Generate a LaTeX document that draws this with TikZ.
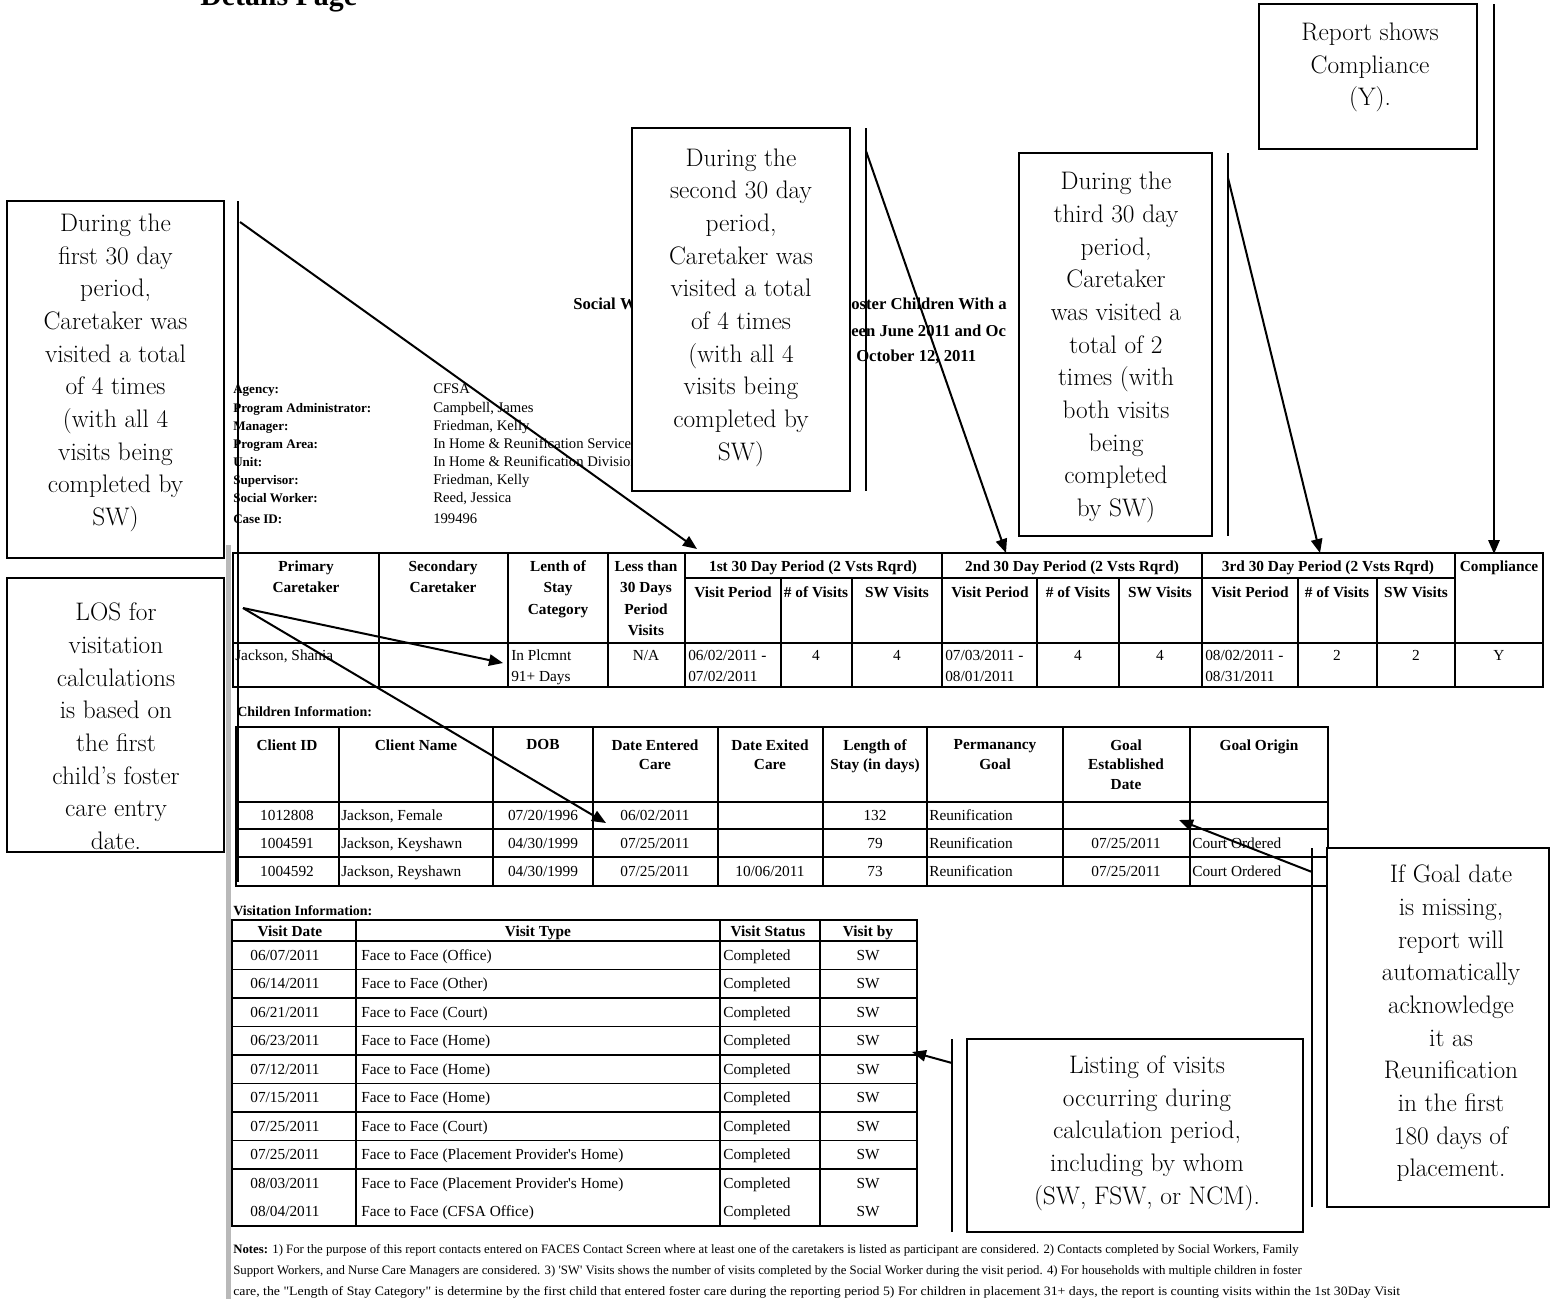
\documentclass[tikz,border=0pt]{standalone}
\usepackage{fontspec}
\newfontfamily\tabfont{Liberation Serif}
\usetikzlibrary{arrows.meta}
\newcommand\callfont{\fontsize{19}{24.5}\selectfont}

\begin{document}
\begin{tikzpicture}[x=0.75pt,y=0.75pt,
  every node/.style={inner sep=0pt},
  callbox/.style={draw=black,line width=1.5pt,fill=white},
  calltext/.style={align=center,font=\callfont},
  bar/.style={line width=1.5pt},
  pointer/.style={line width=1.5pt,-{Triangle[length=10.5pt,width=8.5pt]}},
  grid/.style={line width=0.8pt},
  hd/.style={anchor=north,align=center,font=\tabfont\bfseries\fontsize{11.5}{16}\selectfont},
  chd/.style={anchor=north,align=center,font=\tabfont\bfseries\fontsize{11.5}{14.5}\selectfont},
  cell/.style={font=\tabfont\fontsize{11.5}{14}\selectfont},
  lbl/.style={anchor=base west,font=\tabfont\bfseries\fontsize{9.8}{11}\selectfont},
  val/.style={anchor=base west,font=\tabfont\fontsize{11}{13}\selectfont},
  rtitle/.style={anchor=base west,font=\tabfont\bfseries\fontsize{12.5}{15}\selectfont},
  note/.style={anchor=base west,font=\tabfont\fontsize{9.6}{11}\selectfont}]
\useasboundingbox (0,0) rectangle (1551,-1299);

% page heading
\node[anchor=base west,font=\tabfont\bfseries\fontsize{22.4}{26}\selectfont] (pagehead) at (200,-6) {Details Page};
\fill[gray!55] (226,-545) rectangle (231,-1299);

% report title (partly hidden by the callouts)
\node[rtitle] (rtitle1) at (573,-309) {Social W};
\node[rtitle] (rtitle2) at (851,-309) {oster Children With a};
\node[rtitle] (rtitle3) at (851,-336) {een June 2011 and Oc};
\node[rtitle] (rtitle4) at (856,-361) {October 12, 2011};

% agency block
\foreach \lt/\vt/\ly [count=\k] in {Agency:/CFSA/393,
  Program Administrator:/{Campbell, James}/412,
  Manager:/{Friedman, Kelly}/430,
  Program Area:/In Home \& Reunification Services/448,
  Unit:/In Home \& Reunification Division/466,
  Supervisor:/{Friedman, Kelly}/484,
  Social Worker:/{Reed, Jessica}/502,
  Case ID:/199496/523}
{
  \node[lbl] (alabel\k) at (233,-\ly) {\lt};
  \node[val] (avalue\k) at (433,-\ly) {\vt};
}

% caretaker table
\draw[grid] (233,-553) rectangle (1543,-687);
\foreach \cx in {379,508,608,685,942,1202,1455} \draw[grid] (\cx,-553) -- (\cx,-687);
\foreach \cx in {781,852,1037,1119,1298,1377} \draw[grid] (\cx,-578) -- (\cx,-687);
\draw[grid] (685,-578) -- (1455,-578);
\draw[grid] (233,-643) -- (1543,-643);

\node[hd] (hprim) at (306,-560.5) {Primary\\Caretaker};
\node[hd] (hsec) at (443,-560.5) {Secondary\\Caretaker};
\node[hd] (hlos) at (558,-560.5) {Lenth of\\Stay\\Category};
\node[hd] (hless) at (646,-560.5) {Less than\\30 Days\\Period\\Visits};
\node[hd] (hper1) at (813,-560.5) {1st 30 Day Period (2 Vsts Rqrd)};
\node[hd] (hper2) at (1072,-560.5) {2nd 30 Day Period (2 Vsts Rqrd)};
\node[hd] (hper3) at (1328,-560.5) {3rd 30 Day Period (2 Vsts Rqrd)};
\node[hd] (hcomp) at (1499,-560.5) {Compliance};
\foreach \sx/\st [count=\k] in {733/Visit Period,816/\# of Visits,897/SW Visits,
  990/Visit Period,1078/\# of Visits,1160/SW Visits,
  1250/Visit Period,1337/\# of Visits,1416/SW Visits}
  \node[hd] (hsub\k) at (\sx,-586.5) {\st};

\node[cell,anchor=base west] (dcare) at (235,-660) {Jackson, Shania};
\node[cell,anchor=base west] (dlos) at (511,-660) {In Plcmnt};
\node[cell,anchor=base west] (dlosb) at (511,-681) {91+ Days};
\node[cell,anchor=base] (dless) at (646,-660) {N/A};
\node[cell,anchor=base west] (dvp1) at (688,-660) {06/02/2011 -};
\node[cell,anchor=base west] (dvp1b) at (688,-681) {07/02/2011};
\node[cell,anchor=base] (dnv1) at (816,-660) {4};
\node[cell,anchor=base] (dsw1) at (897,-660) {4};
\node[cell,anchor=base west] (dvp2) at (945,-660) {07/03/2011 -};
\node[cell,anchor=base west] (dvp2b) at (945,-681) {08/01/2011};
\node[cell,anchor=base] (dnv2) at (1078,-660) {4};
\node[cell,anchor=base] (dsw2) at (1160,-660) {4};
\node[cell,anchor=base west] (dvp3) at (1205,-660) {08/02/2011 -};
\node[cell,anchor=base west] (dvp3b) at (1205,-681) {08/31/2011};
\node[cell,anchor=base] (dnv3) at (1337,-660) {2};
\node[cell,anchor=base] (dsw3) at (1416,-660) {2};
\node[cell,anchor=base] (dcomp) at (1499,-660) {Y};

% children table
\node[anchor=base west,font=\tabfont\bfseries\fontsize{10.5}{12}\selectfont] (kidshead) at (237,-716) {Children Information:};
\draw[grid] (236,-727) rectangle (1328,-886);
\foreach \cx in {339,493,593,718,823,927,1063,1190} \draw[grid] (\cx,-727) -- (\cx,-886);
\foreach \cy in {802,829,857} \draw[grid] (236,-\cy) -- (1328,-\cy);
\node[chd] (kid) at (287,-739.5) {Client ID};
\node[chd] (kname) at (416,-739.5) {Client Name};
\node[chd] (kdob) at (543,-739.5) {DOB};
\node[chd] (kin) at (655,-739.5) {Date Entered\\Care};
\node[chd] (kout) at (770,-739.5) {Date Exited\\Care};
\node[chd] (klen) at (875,-739.5) {Length of\\Stay (in days)};
\node[chd] (kgoal) at (995,-739.5) {Permanancy\\Goal};
\node[chd] (kgdate) at (1126,-739.5) {Goal\\Established\\Date};
\node[chd] (korig) at (1259,-739.5) {Goal Origin};
\foreach \cid/\cname/\cdob/\cin/\cout/\clen/\cgd/\cgo [count=\r] in {
  1012808/{Jackson, Female}/{07/20/1996}/{06/02/2011}/{}/132/{}/{},
  1004591/{Jackson, Keyshawn}/{04/30/1999}/{07/25/2011}/{}/79/{07/25/2011}/Court Ordered,
  1004592/{Jackson, Reyshawn}/{04/30/1999}/{07/25/2011}/{10/06/2011}/73/{07/25/2011}/Court Ordered}
{
  \node[cell,anchor=base] (kid\r) at (287,{-792-28*\r}) {\cid};
  \node[cell,anchor=base west] (kname\r) at (341,{-792-28*\r}) {\cname};
  \node[cell,anchor=base] (kdob\r) at (543,{-792-28*\r}) {\cdob};
  \node[cell,anchor=base] (kin\r) at (655,{-792-28*\r}) {\cin};
  \node[cell,anchor=base] (kout\r) at (770,{-792-28*\r}) {\cout};
  \node[cell,anchor=base] (klen\r) at (875,{-792-28*\r}) {\clen};
  \node[cell,anchor=base west] (kgoal\r) at (929,{-792-28*\r}) {Reunification};
  \node[cell,anchor=base] (kgdate\r) at (1126,{-792-28*\r}) {\cgd};
  \node[cell,anchor=base west] (korig\r) at (1192,{-792-28*\r}) {\cgo};
}

% visitation table
\node[anchor=base west,font=\tabfont\bfseries\fontsize{10.5}{12}\selectfont] (visithead) at (233,-915) {Visitation Information:};
\draw[grid] (232,-920) rectangle (917,-1226);
\foreach \cx in {356,720,820} \draw[grid] (\cx,-920) -- (\cx,-1226);
\foreach \k in {0,...,8} \draw[grid] (232,{-941-28.5*\k}) -- (917,{-941-28.5*\k});
\node[cell,anchor=base,font=\tabfont\bfseries\fontsize{11.5}{14}\selectfont] (vhdate) at (290,-936) {Visit Date};
\node[cell,anchor=base,font=\tabfont\bfseries\fontsize{11.5}{14}\selectfont] (vhtype) at (538,-936) {Visit Type};
\node[cell,anchor=base,font=\tabfont\bfseries\fontsize{11.5}{14}\selectfont] (vhstat) at (768,-936) {Visit Status};
\node[cell,anchor=base,font=\tabfont\bfseries\fontsize{11.5}{14}\selectfont] (vhby) at (868,-936) {Visit by};
\foreach \vd/\vt [count=\k] in {{06/07/2011}/Face to Face (Office),
  {06/14/2011}/Face to Face (Other),
  {06/21/2011}/Face to Face (Court),
  {06/23/2011}/Face to Face (Home),
  {07/12/2011}/Face to Face (Home),
  {07/15/2011}/Face to Face (Home),
  {07/25/2011}/Face to Face (Court),
  {07/25/2011}/Face to Face (Placement Provider's Home),
  {08/03/2011}/Face to Face (Placement Provider's Home),
  {08/04/2011}/Face to Face (CFSA Office)}
{
  \node[cell,anchor=base] (vdate\k) at (285,{-931.5-28.5*\k}) {\vd};
  \node[cell,anchor=base west] (vtype\k) at (361,{-931.5-28.5*\k}) {\vt};
  \node[cell,anchor=base west] (vstat\k) at (723,{-931.5-28.5*\k}) {Completed};
  \node[cell,anchor=base] (vby\k) at (868,{-931.5-28.5*\k}) {SW};
}

% notes
\node[note] (note1) at (233,-1253) {\textbf{Notes:} 1) For the purpose of this report contacts entered on FACES Contact Screen where at least one of the caretakers is listed as participant are considered. 2) Contacts completed by Social Workers, Family};
\node[note] (note2) at (233,-1274) {Support Workers, and Nurse Care Managers are considered. 3) 'SW' Visits shows the number of visits completed by the Social Worker during the visit period. 4) For households with multiple children in foster};
\node[note,transform shape,xscale=1.08] (note3) at (233,-1295) {care, the "Length of Stay Category" is determine by the first child that entered foster care during the reporting period 5) For children in placement 31+ days, the report is counting visits within the 1st 30Day Visit};

% callout: first period
\draw[callbox] (7,-201) rectangle (224,-558);
\node[calltext] (firstbox) at (115.5,-373) {During the\\first 30 day\\period,\\Caretaker was\\visited a total\\of 4 times\\(with all 4\\visits being\\completed by\\SW)};
\coordinate (firstbar1) at (238,-201);
\coordinate (firstbar2) at (238,-560);
\coordinate (firstarm) at (240,-222);
\coordinate (firsttip) at (697,-549);
\draw[bar] (firstbar1) -- (firstbar2);
\draw[pointer] (firstarm) -- (firsttip);

% callout: second period
\draw[callbox] (632,-128) rectangle (850,-491);
\node[calltext] (secondbox) at (741,-307.5) {During the\\second 30 day\\period,\\Caretaker was\\visited a total\\of 4 times\\(with all 4\\visits being\\completed by\\SW)};
\coordinate (secondbar1) at (866,-128);
\coordinate (secondbar2) at (866,-491);
\coordinate (secondarm) at (866,-151);
\coordinate (secondtip) at (1006,-553);
\draw[bar] (secondbar1) -- (secondbar2);
\draw[pointer] (secondarm) -- (secondtip);

% callout: third period
\draw[callbox] (1019,-153) rectangle (1212,-536);
\node[calltext] (thirdbox) at (1116,-347.5) {During the\\third 30 day\\period,\\Caretaker\\was visited a\\total of 2\\times (with\\both visits\\being\\completed\\by SW)};
\coordinate (thirdbar1) at (1228,-153);
\coordinate (thirdbar2) at (1228,-536);
\coordinate (thirdarm) at (1228,-178);
\coordinate (thirdtip) at (1320,-553);
\draw[bar] (thirdbar1) -- (thirdbar2);
\draw[pointer] (thirdarm) -- (thirdtip);

% callout: compliance
\draw[callbox] (1259,-4) rectangle (1477,-149);
\node[calltext] (compbox) at (1370,-67.5) {Report shows\\Compliance\\(Y).};
\coordinate (compbar) at (1494,-4);
\coordinate (comptip) at (1494,-554);
\draw[pointer] (compbar) -- (comptip);

% callout: length of stay
\draw[callbox] (7,-578) rectangle (224,-852);
\node[calltext] (losbox) at (116,-726.5) {LOS for\\visitation\\calculations\\is based on\\the first\\child's foster\\care entry\\date.};
\coordinate (losbar1) at (238,-560);
\coordinate (losbar2) at (238,-882);
\coordinate (losarm) at (243,-608);
\coordinate (lostip1) at (503,-663);
\coordinate (lostip2) at (606,-823);
\draw[bar] (losbar1) -- (losbar2);
\draw[pointer] (losarm) -- (lostip1);
\draw[pointer] (losarm) -- (lostip2);

% callout: goal date
\draw[callbox] (1327,-848) rectangle (1549,-1207);
\node[calltext] (goalbox) at (1451,-1023.5) {If Goal date\\is missing,\\report will\\automatically\\acknowledge\\it as\\Reunification\\in the first\\180 days of\\placement.};
\coordinate (goalbar1) at (1312,-848);
\coordinate (goalbar2) at (1312,-1207);
\coordinate (goalarm) at (1312,-872);
\coordinate (goaltip) at (1179,-820);
\draw[bar] (goalbar1) -- (goalbar2);
\draw[pointer] (goalarm) -- (goaltip);

% callout: visit listing
\draw[callbox] (967,-1039) rectangle (1303,-1232);
\node[calltext] (listbox) at (1147,-1133) {Listing of visits\\occurring during\\calculation period,\\including by whom\\(SW, FSW, or NCM).};
\coordinate (listbar1) at (952,-1039);
\coordinate (listbar2) at (952,-1232);
\coordinate (listarm) at (952,-1063);
\coordinate (listtip) at (912,-1052);
\draw[bar] (listbar1) -- (listbar2);
\draw[pointer] (listarm) -- (listtip);
\end{tikzpicture}
\end{document}
